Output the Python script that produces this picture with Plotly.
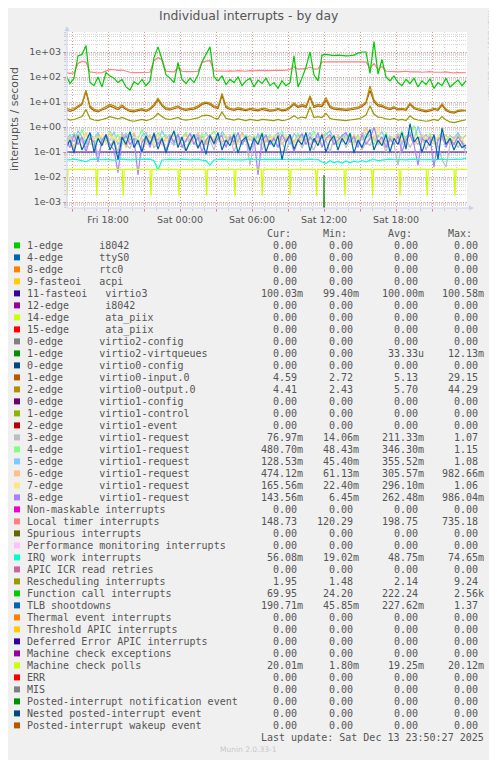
import pandas as pd
import plotly.graph_objects as go

# ─── Canvas geometry (window pixels) ─────────────────────────────────────────
# the page body keeps its default 8px margin, so the figure sits at (8, 8)
OFF = 8
W, H = 497 - OFF, 760 - OFF
PL, PR, PT, PB = 67, 467, 32, 208  # plot box, window coordinates


def px(x):
    return (x - PL) / (PR - PL)


def py(y):
    return (PB - y) / (PB - PT)


# ─── Data: 20-minute samples, Fri 14:30 .. Sat 23:50 ─────────────────────────
times = pd.date_range("2025-12-12 14:30", periods=101, freq="20min")

function_call = [
    120, 55, 90, 700, 800, 1800, 60, 45, 100, 40,
    150, 110, 90, 60, 80, 40, 30, 65, 50, 80,
    45, 70, 600, 1600, 500, 120, 90, 60, 380, 80,
    55, 90, 60, 120, 400, 800, 1600, 100, 70, 110,
    50, 80, 60, 100, 45, 70, 90, 40, 75, 55,
    90, 45, 60, 35, 70, 45, 60, 700, 40, 90,
    250, 1000, 120, 70, 750, 800, 750, 720, 750, 700,
    700, 720, 750, 900, 1000, 1000, 140, 2600, 130, 500,
    100, 70, 110, 60, 45, 80, 55, 90, 40, 70,
    50, 85, 35, 60, 45, 90, 40, 55, 75, 45,
    70,
]
local_timer = [
    150, 140, 145, 350, 420, 400, 160, 150, 145, 150,
    180, 200, 195, 185, 190, 170, 155, 150, 150, 145,
    150, 155, 450, 600, 480, 170, 165, 160, 240, 170,
    165, 160, 165, 170, 380, 430, 450, 175, 170, 165,
    170, 175, 170, 180, 175, 170, 180, 175, 185, 180,
    175, 180, 185, 180, 185, 190, 200, 260, 205, 210,
    215, 250, 205, 210, 400, 400, 400, 400, 400, 400,
    400, 400, 400, 400, 400, 400, 220, 350, 200, 260,
    170, 165, 170, 160, 165, 170, 160, 165, 160, 155,
    160, 165, 155, 150, 155, 160, 150, 145, 150, 145,
    148,
]
virtio0_input = [
    5, 4.2, 4.8, 6, 8, 26, 6, 4.5, 4, 4.8,
    5.5, 7, 6, 5, 6.5, 5, 4.2, 4, 4.5, 4.8,
    4.2, 5, 7, 12, 7, 5, 4.8, 5.5, 6, 5,
    4.6, 5, 5.2, 6, 8, 9, 8, 6, 5.5, 18,
    6, 5, 4.6, 5.2, 4.8, 4.5, 5, 4.6, 4.4, 5,
    4.8, 4.3, 4.5, 5, 4.4, 4.6, 5.8, 8, 6, 7,
    6, 15, 6, 7, 6.5, 12, 6, 5.2, 5, 4.8,
    4.6, 4.8, 5, 5.5, 6.5, 9, 29, 10, 7, 6.5,
    5.5, 5, 5.8, 4.8, 5, 4.6, 8, 5.5, 4.8, 4.5,
    4, 4.4, 5, 4.6, 7.5, 4.6, 3.8, 3.6, 4.2, 4.4,
    4.6,
]
virtio0_output = [
    6, 5, 5.5, 7, 9, 30, 7, 5.2, 4.6, 5.4,
    6.5, 8, 7, 5.8, 7.5, 5.6, 4.8, 4.6, 5, 5.4,
    4.8, 5.6, 8, 14, 8, 5.8, 5.4, 6.2, 7, 5.6,
    5.2, 5.6, 6, 7, 9, 10, 9, 7, 6.2, 22,
    7, 5.6, 5.2, 6, 5.4, 5, 5.6, 5.2, 5, 5.6,
    5.4, 4.8, 5, 5.6, 5, 5.2, 6.5, 9, 6.8, 8,
    7, 18, 7, 8, 7.5, 15, 7, 5.8, 5.6, 5.4,
    5.2, 5.4, 5.6, 6.2, 7.5, 10, 44, 12, 8, 7.5,
    6.2, 5.6, 6.5, 5.4, 5.6, 5.2, 9, 6.2, 5.4, 5,
    4.5, 5, 5.6, 5.2, 8.5, 5.2, 4.2, 4, 4.6, 4.8,
    4.4,
]
rescheduling = [
    2.2, 1.9, 2, 2.3, 2.6, 5, 2.2, 1.9, 1.8, 2,
    2.2, 2.6, 2.3, 2.1, 2.4, 2, 1.8, 1.7, 1.9, 2,
    1.8, 2, 2.4, 3.5, 2.6, 2.1, 2, 2.2, 2.4, 2,
    1.9, 2, 2.1, 2.3, 2.8, 3, 2.8, 2.3, 2.1, 4,
    2.2, 2, 1.9, 2.1, 2, 1.8, 2, 1.9, 1.8, 2,
    1.9, 1.8, 1.8, 2, 1.8, 1.9, 2.2, 2.8, 2.2, 2.5,
    2.3, 6.5, 2.4, 2.6, 2.4, 3.5, 2.2, 2, 1.9, 1.9,
    1.8, 1.9, 2, 2.1, 2.4, 3, 7, 3.2, 2.5, 2.4,
    2.1, 2, 2.2, 1.9, 2, 1.8, 2.8, 2.1, 1.9, 1.8,
    1.7, 1.8, 2, 1.8, 2.6, 1.9, 1.6, 1.5, 1.7, 1.8,
    1.95,
]
tlb_shootdowns = [
    0.15, 0.3, 0.09, 0.45, 0.12, 0.25, 0.6, 0.1, 0.35, 0.18,
    0.5, 0.12, 0.28, 0.05, 0.4, 0.2, 0.65, 0.15, 0.3, 0.1,
    0.45, 0.2, 0.55, 0.13, 0.35, 0.09, 0.3, 0.7, 0.15, 0.4,
    0.11, 0.25, 0.5, 0.14, 0.3, 0.08, 0.45, 0.22, 0.6, 0.12,
    0.3, 0.18, 0.5, 0.09, 0.28, 0.4, 0.12, 0.35, 0.2, 0.55,
    0.1, 0.3, 0.16, 0.45, 0.05, 0.25, 0.5, 0.13, 0.3, 0.2,
    0.6, 0.11, 0.35, 0.18, 0.5, 0.1, 0.28, 0.45, 0.12, 0.35,
    0.2, 0.55, 0.09, 0.3, 0.15, 0.4, 0.8, 0.12, 0.3, 0.18,
    0.5, 0.1, 0.35, 0.2, 0.6, 0.13, 1.37, 0.25, 0.4, 0.1,
    0.3, 0.18, 0.5, 0.05, 0.9, 0.2, 0.35, 0.12, 0.28, 0.15,
    0.19,
]
irq_work = [
    0.05, 0.048, 0.052, 0.05, 0.045, 0.04, 0.05, 0.052, 0.05, 0.049,
    0.051, 0.05, 0.047, 0.05, 0.052, 0.05, 0.048, 0.05, 0.051, 0.049,
    0.05, 0.052, 0.045, 0.019, 0.048, 0.05, 0.051, 0.05, 0.049, 0.052,
    0.05, 0.048, 0.05, 0.051, 0.047, 0.045, 0.03, 0.048, 0.05, 0.052,
    0.05, 0.049, 0.051, 0.05, 0.048, 0.05, 0.052, 0.05, 0.049, 0.05,
    0.051, 0.05, 0.048, 0.05, 0.052, 0.049, 0.05, 0.051, 0.05, 0.048,
    0.05, 0.052, 0.049, 0.05, 0.04, 0.035, 0.045, 0.038, 0.042, 0.036,
    0.044, 0.037, 0.043, 0.039, 0.045, 0.04, 0.047, 0.05, 0.045, 0.048,
    0.05, 0.052, 0.049, 0.051, 0.05, 0.048, 0.05, 0.052, 0.049, 0.05,
    0.051, 0.05, 0.048, 0.05, 0.052, 0.049, 0.05, 0.051, 0.05, 0.052,
    0.056,
]
req3 = [
    0.2, 0.35, 0.12, 0.5, 0.25, 0.15, 0.4, 0.3, 0.08, 0.22,
    0.45, 0.18, 0.3, 0.1, 0.6, 0.2, 0.14, 0.35, 0.25, 0.09,
    0.3, 0.5, 0.15, 0.22, 0.4, 0.12, 0.28, 0.18, 0.55, 0.2,
    0.1, 0.35, 0.25, 0.15, 0.45, 0.2, 0.3, 0.12, 0.4, 0.22,
    0.18, 0.5, 0.1, 0.3, 0.2, 0.35, 0.03, 0.25, 0.45, 0.12,
    0.3, 0.2, 0.4, 0.16, 0.25, 0.1, 0.35, 0.2, 0.5, 0.14,
    0.3, 0.22, 0.12, 0.4, 0.18, 0.28, 0.1, 0.35, 0.2, 0.45,
    0.15, 0.3, 0.22, 0.5, 0.12, 0.25, 0.18, 0.4, 0.2, 0.3,
    0.1, 0.35, 0.2, 0.03, 0.25, 0.4, 0.15, 0.3, 0.2, 0.45,
    0.12, 0.28, 0.35, 0.18, 0.05, 0.025, 0.2, 0.4, 0.15, 0.25,
    0.08,
]
req4 = [
    0.4, 0.2, 0.6, 0.3, 0.8, 0.25, 0.45, 0.15, 0.5, 0.35,
    0.25, 0.7, 0.3, 0.5, 0.2, 0.4, 0.6, 0.25, 0.35, 0.8,
    0.3, 0.45, 0.2, 0.6, 0.35, 0.5, 0.25, 0.7, 0.3, 0.4,
    0.6, 0.2, 0.45, 0.3, 0.55, 0.25, 0.4, 0.7, 0.3, 0.5,
    0.35, 0.25, 0.6, 0.4, 0.2, 0.5, 0.3, 0.45, 0.25, 0.6,
    0.3, 0.5, 0.2, 0.4, 0.65, 0.3, 0.45, 0.25, 0.55, 0.35,
    0.5, 0.3, 0.7, 0.25, 0.4, 0.6, 0.3, 0.45, 0.2, 0.5,
    0.35, 0.6, 0.25, 0.45, 0.3, 0.55, 0.4, 0.2, 0.5, 0.3,
    0.6, 0.25, 0.45, 0.35, 0.7, 0.3, 0.5, 1.15, 0.35, 0.45,
    0.3, 0.55, 0.25, 0.4, 0.6, 0.3, 0.45, 0.2, 0.5, 0.35,
    0.48,
]
req5 = [
    0.3, 0.5, 0.25, 0.7, 0.4, 0.2, 0.55, 0.35, 0.6, 0.25,
    0.45, 0.3, 0.65, 0.2, 0.4, 0.55, 0.3, 0.5, 0.2, 0.45,
    0.6, 0.25, 0.4, 0.3, 0.7, 0.35, 0.5, 0.2, 0.45, 0.3,
    0.25, 0.55, 0.35, 0.5, 0.2, 0.6, 0.3, 0.4, 0.25, 0.65,
    0.4, 0.3, 0.5, 0.25, 0.6, 0.35, 0.45, 0.2, 0.55, 0.3,
    0.5, 0.25, 0.4, 0.6, 0.3, 0.45, 0.2, 0.55, 0.35, 0.5,
    0.3, 0.6, 0.25, 0.45, 0.35, 0.5, 0.7, 0.3, 0.4, 0.25,
    0.55, 0.3, 0.45, 0.2, 0.6, 0.35, 0.5, 0.3, 0.4, 0.65,
    0.25, 0.45, 0.3, 0.55, 0.2, 0.4, 0.6, 0.3, 1.08, 0.35,
    0.5, 0.25, 0.4, 0.3, 0.55, 0.2, 0.45, 0.35, 0.6, 0.3,
    0.13,
]
req6 = [
    0.25, 0.4, 0.15, 0.5, 0.3, 0.6, 0.2, 0.35, 0.45, 0.2,
    0.35, 0.55, 0.2, 0.3, 0.45, 0.15, 0.4, 0.6, 0.25, 0.35,
    0.2, 0.45, 0.3, 0.5, 0.18, 0.4, 0.3, 0.55, 0.25, 0.35,
    0.5, 0.22, 0.35, 0.6, 0.3, 0.2, 0.45, 0.3, 0.5, 0.25,
    0.3, 0.45, 0.2, 0.35, 0.55, 0.25, 0.4, 0.3, 0.2, 0.5,
    0.25, 0.4, 0.3, 0.5, 0.2, 0.35, 0.45, 0.25, 0.4, 0.3,
    0.45, 0.2, 0.35, 0.25, 0.55, 0.3, 0.4, 0.2, 0.5, 0.3,
    0.35, 0.25, 0.5, 0.3, 0.4, 0.98, 0.3, 0.45, 0.25, 0.35,
    0.2, 0.4, 0.3, 0.5, 0.25, 0.35, 0.45, 0.2, 0.3, 0.5,
    0.3, 0.45, 0.25, 0.4, 0.3, 0.5, 0.2, 0.35, 0.45, 0.3,
    0.47,
]
req7 = [
    0.3, 0.2, 0.45, 0.25, 0.35, 0.5, 0.2, 0.4, 0.3, 0.55,
    0.2, 0.35, 0.45, 0.25, 0.3, 0.5, 0.2, 0.4, 0.35, 0.25,
    0.45, 0.3, 0.2, 0.5, 0.3, 0.25, 0.45, 0.35, 0.2, 0.4,
    0.3, 0.45, 0.25, 0.35, 0.2, 0.5, 0.3, 0.4, 0.25, 0.35,
    0.5, 0.25, 0.35, 0.2, 0.45, 0.3, 0.4, 0.25, 0.35, 0.2,
    0.4, 0.3, 0.5, 0.25, 0.35, 0.45, 0.3, 0.2, 0.4, 0.3,
    0.25, 0.45, 0.3, 0.35, 0.2, 0.4, 0.3, 0.5, 0.25, 0.35,
    0.3, 0.4, 0.2, 0.35, 0.5, 0.25, 0.4, 0.3, 1.06, 0.2,
    0.35, 0.3, 0.45, 0.25, 0.4, 0.2, 0.35, 0.5, 0.3, 0.25,
    0.4, 0.3, 0.2, 0.45, 0.35, 0.25, 0.4, 0.3, 0.2, 0.35,
    0.17,
]
req8 = [
    0.3, 0.15, 0.5, 0.2, 0.4, 0.1, 0.35, 0.25, 0.04, 0.3,
    0.5, 0.2, 0.12, 0.015, 0.3, 0.45, 0.2, 0.35, 0.012, 0.25,
    0.4, 0.15, 0.6, 0.2, 0.35, 0.1, 0.45, 0.25, 0.5, 0.15,
    0.3, 0.55, 0.2, 0.4, 0.1, 0.3, 0.5, 0.2, 0.35, 0.45,
    0.15, 0.4, 0.25, 0.6, 0.2, 0.35, 0.1, 0.4, 0.012, 0.3,
    0.45, 0.2, 0.35, 0.15, 0.5, 0.25, 0.4, 0.1, 0.3, 0.55,
    0.2, 0.4, 0.25, 0.6, 0.15, 0.35, 0.5, 0.2, 0.3, 0.45,
    0.6, 0.25, 0.4, 0.15, 0.5, 0.2, 0.35, 0.99, 0.25, 0.4,
    0.15, 0.35, 0.2, 0.45, 0.1, 0.3, 0.5, 0.2, 0.03, 0.35,
    0.25, 0.4, 0.025, 0.3, 0.45, 0.15, 0.35, 0.2, 0.4, 0.25,
    0.14,
]

# flat virtio3 line, sampled every 3 h
virtio3_times = ["2025-12-12 14:35", "2025-12-12 18:00", "2025-12-12 21:00",
                 "2025-12-13 00:00", "2025-12-13 03:00", "2025-12-13 06:00",
                 "2025-12-13 09:00", "2025-12-13 12:00", "2025-12-13 15:00",
                 "2025-12-13 18:00", "2025-12-13 21:00", "2025-12-13 23:55"]
virtio3_vals = [0.1, 0.1, 0.1, 0.1, 0.1, 0.1, 0.1, 0.1, 0.1, 0.1, 0.1, 0.1]

# single virtio2-virtqueues blip near Sat 12:00
vq_times = ["2025-12-13 11:55", "2025-12-13 12:00", "2025-12-13 12:05"]
vq_vals = [0, 0.01213, 0]

# machine check polls: flat level with short dips
mcp_level = 0.0200
mcp_dip = 0.0018
mcp_dip_times = ["2025-12-12 14:35", "2025-12-12 17:04", "2025-12-12 19:16",
                 "2025-12-12 21:35", "2025-12-12 23:55", "2025-12-13 02:13",
                 "2025-12-13 04:35", "2025-12-13 06:51", "2025-12-13 09:10",
                 "2025-12-13 11:23", "2025-12-13 13:45", "2025-12-13 16:03",
                 "2025-12-13 18:20", "2025-12-13 20:36", "2025-12-13 22:55"]

# ─── Legend table ────────────────────────────────────────────────────────────
legend_labels = [
    "1-edge      i8042", "4-edge      ttyS0", "8-edge      rtc0",
    "9-fasteoi   acpi", "11-fasteoi   virtio3", "12-edge      i8042",
    "14-edge      ata_piix", "15-edge      ata_piix",
    "0-edge      virtio2-config", "1-edge      virtio2-virtqueues",
    "0-edge      virtio0-config", "1-edge      virtio0-input.0",
    "2-edge      virtio0-output.0", "0-edge      virtio1-config",
    "1-edge      virtio1-control", "2-edge      virtio1-event",
    "3-edge      virtio1-request", "4-edge      virtio1-request",
    "5-edge      virtio1-request", "6-edge      virtio1-request",
    "7-edge      virtio1-request", "8-edge      virtio1-request",
    "Non-maskable interrupts", "Local timer interrupts", "Spurious interrupts",
    "Performance monitoring interrupts", "IRQ work interrupts",
    "APIC ICR read retries", "Rescheduling interrupts",
    "Function call interrupts", "TLB shootdowns", "Thermal event interrupts",
    "Threshold APIC interrupts", "Deferred Error APIC interrupts",
    "Machine check exceptions", "Machine check polls", "ERR", "MIS",
    "Posted-interrupt notification event", "Nested posted-interrupt event",
    "Posted-interrupt wakeup event",
]
legend_colors = [
    "#00CC00", "#0066B3", "#FF8000", "#FFCC00", "#330099", "#990099",
    "#CCFF00", "#FF0000", "#808080", "#008F00", "#00487D", "#B35A00",
    "#B38F00", "#6B006B", "#8FB300", "#B30000", "#BEBEBE", "#80FF80",
    "#80C9FF", "#FFC080", "#FFE680", "#AA80FF", "#EE00CC", "#FF8080",
    "#666600", "#FFBFFF", "#00FFCC", "#CC6699", "#999900", "#00CC00",
    "#0066B3", "#FF8000", "#FFCC00", "#330099", "#990099", "#CCFF00",
    "#FF0000", "#808080", "#008F00", "#00487D", "#B35A00",
]
cur_vals = [0, 0, 0, 0, 0.10003, 0, 0, 0, 0, 0, 0, 4.59, 4.41, 0, 0, 0,
            0.07697, 0.4807, 0.12853, 0.47412, 0.16556, 0.14356, 0, 148.73,
            0, 0, 0.05608, 0, 1.95, 69.95, 0.19071, 0, 0, 0, 0, 0.02001,
            0, 0, 0, 0, 0]
min_vals = [0, 0, 0, 0, 0.0994, 0, 0, 0, 0, 0, 0, 2.72, 2.43, 0, 0, 0,
            0.01406, 0.04843, 0.0454, 0.06113, 0.0224, 0.00645, 0, 120.29,
            0, 0, 0.01902, 0, 1.48, 24.20, 0.04585, 0, 0, 0, 0, 0.0018,
            0, 0, 0, 0, 0]
avg_vals = [0, 0, 0, 0, 0.1, 0, 0, 0, 0, 0.00003333, 0, 5.13, 5.70, 0, 0, 0,
            0.21133, 0.3463, 0.35552, 0.30557, 0.2961, 0.26248, 0, 198.75,
            0, 0, 0.04875, 0, 2.14, 222.24, 0.22762, 0, 0, 0, 0, 0.01925,
            0, 0, 0, 0, 0]
max_vals = [0, 0, 0, 0, 0.10058, 0, 0, 0, 0, 0.01213, 0, 29.15, 44.29, 0, 0,
            0, 1.07, 1.15, 1.08, 0.98266, 1.06, 0.98604, 0, 735.18, 0, 0,
            0.07465, 0, 9.24, 2560, 1.37, 0, 0, 0, 0, 0.02012, 0, 0, 0, 0, 0]

x_tick_vals = ["2025-12-12 15:00", "2025-12-12 18:00", "2025-12-12 21:00",
               "2025-12-13 00:00", "2025-12-13 03:00", "2025-12-13 06:00",
               "2025-12-13 09:00", "2025-12-13 12:00", "2025-12-13 15:00",
               "2025-12-13 18:00", "2025-12-13 21:00"]
x_tick_text = ["", "Fri 18:00", "", "Sat 00:00", "", "Sat 06:00", "",
               "Sat 12:00", "", "Sat 18:00", ""]
y_tick_vals = [1e-3, 1e-2, 1e-1, 1e0, 1e1, 1e2, 1e3]
y_tick_text = ["1e-03", "1e-02", "1e-01", "1e+00", "1e+01", "1e+02", "1e+03"]

TEXT = "#555555"
MONO = "DejaVu Sans Mono"
SANS = "DejaVu Sans"
NB = "\u00a0"


def si(v):
    """rrdtool-like '%6.2lf%s' formatting."""
    if v == 0:
        return f"{0:6.2f}"
    for fac, suf in [(1e3, "k"), (1.0, ""), (1e-3, "m"), (1e-6, "u")]:
        if abs(v) >= fac:
            return f"{v / fac:6.2f}{suf}"
    return f"{v:6.2f}"


def line(x, y, color):
    # zero has no place on a log axis; push it far below the visible range
    y = [v if v > 0 else 1e-9 for v in y]
    return go.Scatter(x=x, y=y, mode="lines", hoverinfo="skip",
                      line=dict(color=color, width=1.2))


fig = go.Figure()

mcp_x, mcp_y = [], []
for k, t in enumerate(mcp_dip_times):
    t = pd.Timestamp(t)
    if k:
        mcp_x.append(t - pd.Timedelta("5min"))
        mcp_y.append(mcp_level)
    mcp_x += [t, t + pd.Timedelta("5min")]
    mcp_y += [mcp_dip, mcp_level]
mcp_x.append(pd.Timestamp("2025-12-13 23:55"))
mcp_y.append(mcp_level)

# draw order follows the munin field order
fig.add_trace(line(virtio3_times, virtio3_vals, "#330099"))
fig.add_trace(line(vq_times, vq_vals, "#008F00"))
fig.add_trace(line(times, virtio0_input, "#B35A00"))
fig.add_trace(line(times, virtio0_output, "#B38F00"))
for vals, col in [(req3, "#BEBEBE"), (req4, "#80FF80"), (req5, "#80C9FF"),
                  (req6, "#FFC080"), (req7, "#FFE680"), (req8, "#AA80FF")]:
    fig.add_trace(line(times, vals, col))
fig.add_trace(line(times, local_timer, "#FF8080"))
fig.add_trace(line(times, irq_work, "#00FFCC"))
fig.add_trace(line(times, rescheduling, "#999900"))
fig.add_trace(line(times, function_call, "#00CC00"))
fig.add_trace(line(times, tlb_shootdowns, "#0066B3"))
fig.add_trace(line(mcp_x, mcp_y, "#CCFF00"))

MAJOR = "rgba(255,0,0,0.35)"
MINOR = "rgba(140,140,140,0.35)"

fig.update_xaxes(
    range=["2025-12-12 14:35", "2025-12-13 23:55"],
    tickmode="array", tickvals=x_tick_vals, ticktext=x_tick_text,
    showgrid=True, gridcolor=MAJOR, griddash="1px,2px", gridwidth=1,
    ticks="outside", ticklen=3, tickcolor=MAJOR,
    tickfont=dict(family=SANS, size=9.5, color=TEXT),
    minor=dict(dtick=3600000, tick0="2025-12-12 15:00", showgrid=True,
               gridcolor=MINOR, griddash="1px,2px", ticks="outside",
               ticklen=2, tickcolor=MINOR),
    showline=False, zeroline=False,
)
fig.update_yaxes(
    type="log", range=[-3.24, 3.8],
    tickmode="array", tickvals=y_tick_vals, ticktext=y_tick_text,
    showgrid=True, gridcolor=MAJOR, griddash="1px,2px", gridwidth=1,
    ticks="outside", ticklen=3, tickcolor=MAJOR,
    tickfont=dict(family=SANS, size=9.5, color=TEXT),
    minor=dict(dtick="D1", showgrid=True, gridcolor=MINOR,
               griddash="1px,1px", ticks="outside", ticklen=2,
               tickcolor=MINOR),
    showline=False, zeroline=False,
)

shapes = []
annotations = []

# axis lines with arrow heads
AXIS = "#C8D0F0"
shapes.append(dict(type="line", xref="paper", yref="paper", x0=px(67), x1=px(469),
                   y0=py(208), y1=py(208), line=dict(color=AXIS, width=1)))
shapes.append(dict(type="line", xref="paper", yref="paper", x0=px(67), x1=px(67),
                   y0=py(208), y1=py(30), line=dict(color=AXIS, width=1)))
shapes.append(dict(type="path", xref="paper", yref="paper", fillcolor=AXIS,
                   line=dict(width=0),
                   path=f"M {px(64.5)} {py(31)} L {px(69.5)} {py(31)} L {px(67)} {py(26)} Z"))
shapes.append(dict(type="path", xref="paper", yref="paper", fillcolor=AXIS,
                   line=dict(width=0),
                   path=f"M {px(469)} {py(205.5)} L {px(469)} {py(210.5)} L {px(474)} {py(208)} Z"))


def note(s, x, y, size, color=TEXT, family=SANS, angle=0, anchor="center"):
    return dict(text=s.replace(" ", NB) if family == MONO else s,
                x=px(x), y=py(y), xref="paper", yref="paper",
                xanchor=anchor, yanchor="middle", showarrow=False,
                textangle=angle, borderpad=0, borderwidth=0,
                font=dict(family=family, size=size, color=color))


# title, axis title, side credit, footer
annotations.append(note("Individual interrupts - by day", 248.5, 15.5, 12.4))
annotations.append(note("interrupts / second", 15, 119, 11, angle=-90))
annotations.append(note("RRDTOOL / TOBI OETIKER", 489.5, 56, 7, "#C8C8C8", angle=90))
annotations.append(note("Munin 2.0.33-1", 248, 749, 7.5, "#C8C8C8"))

# legend table
COLS = [260.7, 317.3, 381.7, 441.7]

for cx, head in zip(COLS, [" Cur:", " Min:", " Avg:", " Max:"]):
    annotations.append(note(head, cx, 233.7, 10, family=MONO, anchor="left"))

for k, label in enumerate(legend_labels):
    cy = 245.7 + 12 * k
    shapes.append(dict(type="rect", xref="paper", yref="paper",
                       x0=px(14), x1=px(20), y0=py(cy + 2.7), y1=py(cy - 3.3),
                       fillcolor=legend_colors[k], line=dict(width=0)))
    annotations.append(note(label, 26.7, cy, 10, family=MONO, anchor="left"))
    for cx, vals in zip(COLS, [cur_vals, min_vals, avg_vals, max_vals]):
        annotations.append(note(si(vals[k]), cx, cy, 10, family=MONO, anchor="left"))

annotations.append(note("Last update: Sat Dec 13 23:50:27 2025", 483.5, 737.7, 10,
                        family=MONO, anchor="right"))

fig.update_layout(
    width=W, height=H,
    margin=dict(l=PL - OFF, r=W - (PR - OFF), t=PT - OFF, b=H - (PB - OFF)),
    paper_bgcolor="#F0F0F0",
    plot_bgcolor="#FFFFFF",
    showlegend=False,
    shapes=shapes,
    annotations=annotations,
)

fig.write_html("out.html")
